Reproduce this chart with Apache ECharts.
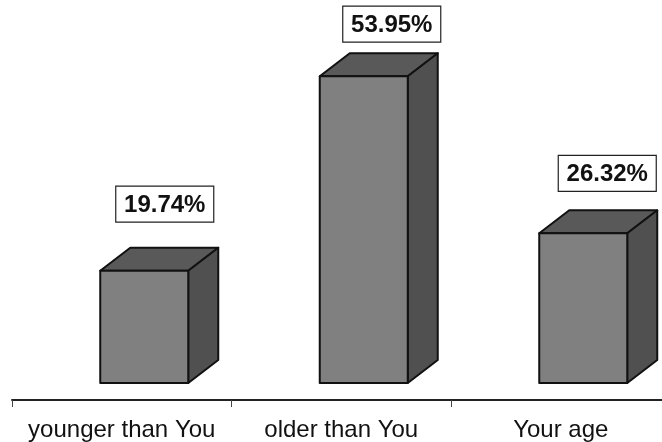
<!DOCTYPE html>
<html><head><meta charset="utf-8">
<style>html,body{margin:0;padding:0;background:#fff}#c{width:662px;height:442px}</style>
<script src="https://cdn.jsdelivr.net/npm/echarts@6/dist/echarts.min.js"></script>
</head><body><div id="c"></div>
<script>
const categories = ['younger than You', 'older than You', 'Your age'];
const values = [19.74, 53.95, 26.32];
const labelLift = [66.5, 52, 60];
const labelShift = [20.5, 28, 24];
const chart = echarts.init(document.getElementById('c'), null, {renderer: 'canvas'});
const stroke = {stroke: '#111', lineWidth: 2, lineJoin: 'round'};
chart.setOption({
  animation: false,
  backgroundColor: '#fff',
  grid: {left: 12, top: 2, right: -8.5, bottom: 42, outerBoundsMode: 'none'},
  xAxis: {
    type: 'category', data: categories,
    axisLine: {onZero: false, lineStyle: {color: '#222', width: 2}},
    axisTick: {show: true, length: 7, lineStyle: {color: '#444', width: 1}, alignWithLabel: false},
    axisLabel: {fontFamily: 'Liberation Sans', fontSize: 24, color: '#111', margin: 18, interval: 0}
  },
  yAxis: {type: 'value', min: -3, max: 67, show: false, splitLine: {show: false}},
  series: [{
    type: 'custom', clip: false,
    data: values.map((v, i) => [i, v]),
    encode: {x: 0, y: 1},
    renderItem(params, api) {
      const i = api.value(0), v = api.value(1);
      const top = api.coord([i, v]), base = api.coord([i, 0]);
      const cx = top[0] + 22.5, half = 44, dx = 30, dy = 23;
      const l = cx - half, r = cx + half, t = top[1], b = base[1];
      const bx = cx + labelShift[i], by = t - labelLift[i];
      return {type: 'group', children: [
        {type: 'polygon', shape: {points: [[l, t], [r, t], [r + dx, t - dy], [l + dx, t - dy]]}, style: {fill: '#595959', ...stroke}},
        {type: 'polygon', shape: {points: [[r, t], [r + dx, t - dy], [r + dx, b - dy], [r, b]]}, style: {fill: '#505050', ...stroke}},
        {type: 'rect', shape: {x: l, y: t, width: r - l, height: b - t}, style: {fill: '#808080', ...stroke}},
        {type: 'rect', shape: {x: bx - 49, y: by - 18, width: 98, height: 36}, style: {fill: '#fff', stroke: '#222', lineWidth: 1.2}},
        {type: 'text', style: {x: bx, y: by + 1, text: v.toFixed(2) + '%', align: 'center', verticalAlign: 'middle', fontFamily: 'Liberation Sans', fontWeight: 'bold', fontSize: 24, fill: '#111'}}
      ]};
    }
  }]
});
</script></body></html>
